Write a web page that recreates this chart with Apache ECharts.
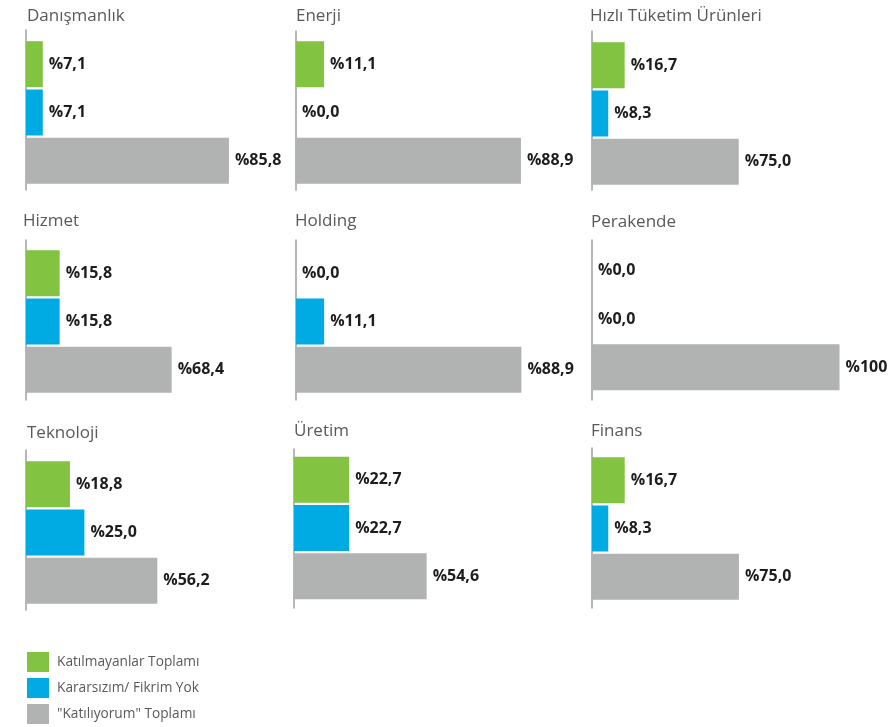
<!DOCTYPE html>
<html>
<head>
<meta charset="utf-8">
<script src="https://cdn.jsdelivr.net/npm/echarts@6/dist/echarts.min.js"></script>
<style>
html,body{margin:0;padding:0;background:#fff;}
#main{width:896px;height:727px;}
</style>
</head>
<body>
<div id="main"></div>
<script>
// ---- data ----
var sectors = ['Danışmanlık', 'Enerji', 'Hızlı Tüketim Ürünleri', 'Hizmet', 'Holding', 'Perakende', 'Teknoloji', 'Üretim', 'Finans'];
var seriesNames = ['Katılmayanlar Toplamı', 'Kararsızım/ Fikrim Yok', '"Katılıyorum" Toplamı'];
var disagree = [7.1, 11.1, 16.7, 15.8, 0.0, 0.0, 18.8, 22.7, 16.7];
var undecided = [7.1, 0.0, 8.3, 15.8, 11.1, 0.0, 25.0, 22.7, 8.3];
var agree = [85.8, 88.9, 75.0, 68.4, 88.9, 100, 56.2, 54.6, 75.0];

// ---- layout / style ----
var colors = ['#82c341', '#00aae3', '#b1b3b3'];
var axisX = [26, 296, 592, 26, 296, 592, 26, 294, 592];
var barTop = [40, 40, 41, 249, 249, 246.5, 460, 455.5, 456];
var axisTop = [30, 31, 31, 240, 240, 240, 450, 449, 448];
var axisBottom = [190, 190, 190, 400, 400, 400, 610, 608, 608];
var titleX = [27, 296, 590, 23, 295, 591, 27, 294, 591];
var titleY = [8, 8, 8, 213, 213, 214, 425, 423, 423];
var axisMax = [105.7, 98.8, 127.8, 117.4, 98.6, 101, 107, 102.9, 127.6];
var gridW = 250;
var FONT = 'Open Sans';

function fmt(v) {
  if (v === 100) return '%100';
  return '%' + v.toFixed(1).replace('.', ',');
}

var values = [disagree, undecided, agree];
var grids = [], xAxes = [], yAxes = [], series = [], titles = [];

sectors.forEach(function (name, i) {
  titles.push({
    text: name, left: titleX[i], top: titleY[i], padding: 0,
    textStyle: { fontFamily: FONT, fontSize: 17, fontWeight: 'normal', color: '#58595b' }
  });
  // main bar grid
  var g = grids.length;
  grids.push({ left: axisX[i], top: barTop[i], width: gridW, height: 145, containLabel: false });
  xAxes.push({ gridIndex: g, type: 'value', min: 0, max: axisMax[i], show: false });
  yAxes.push({ gridIndex: g, type: 'category', inverse: true, data: seriesNames, show: false });
  values.forEach(function (arr, k) {
    var d = seriesNames.map(function (_, j) { return j === k ? arr[i] : '-'; });
    series.push({
      name: seriesNames[k], type: 'bar', xAxisIndex: g, yAxisIndex: g,
      data: d, barWidth: 46, barGap: '-100%',
      itemStyle: { color: colors[k] },
      label: {
        show: true, position: 'right', distance: 6,
        fontFamily: FONT, fontSize: 16, fontWeight: 'bold', color: '#1d1d1b',
        formatter: function (p) { return fmt(p.value); }
      },
      silent: true, animation: false
    });
  });
  // axis line grid
  var g2 = grids.length;
  grids.push({ left: axisX[i], top: axisTop[i], width: 10, height: axisBottom[i] - axisTop[i] });
  xAxes.push({ gridIndex: g2, type: 'value', show: false });
  yAxes.push({
    gridIndex: g2, type: 'category', data: [''],
    axisLine: { show: true, lineStyle: { color: '#9d9fa2', width: 1.5 } },
    axisTick: { show: false }, axisLabel: { show: false }, splitLine: { show: false }
  });
});

var chart = echarts.init(document.getElementById('main'), null, { renderer: 'canvas' });
chart.setOption({
  backgroundColor: '#ffffff',
  animation: false,
  title: titles,
  grid: grids,
  xAxis: xAxes,
  yAxis: yAxes,
  legend: {
    data: seriesNames, orient: 'vertical', left: 27, top: 652, padding: 0,
    itemWidth: 22, itemHeight: 20, itemGap: 6, icon: 'rect',
    textStyle: { fontFamily: FONT, fontSize: 13.7, color: '#58595b', padding: [0, 0, 0, 3] },
    selectedMode: false
  },
  series: series
});
</script>
</body>
</html>
